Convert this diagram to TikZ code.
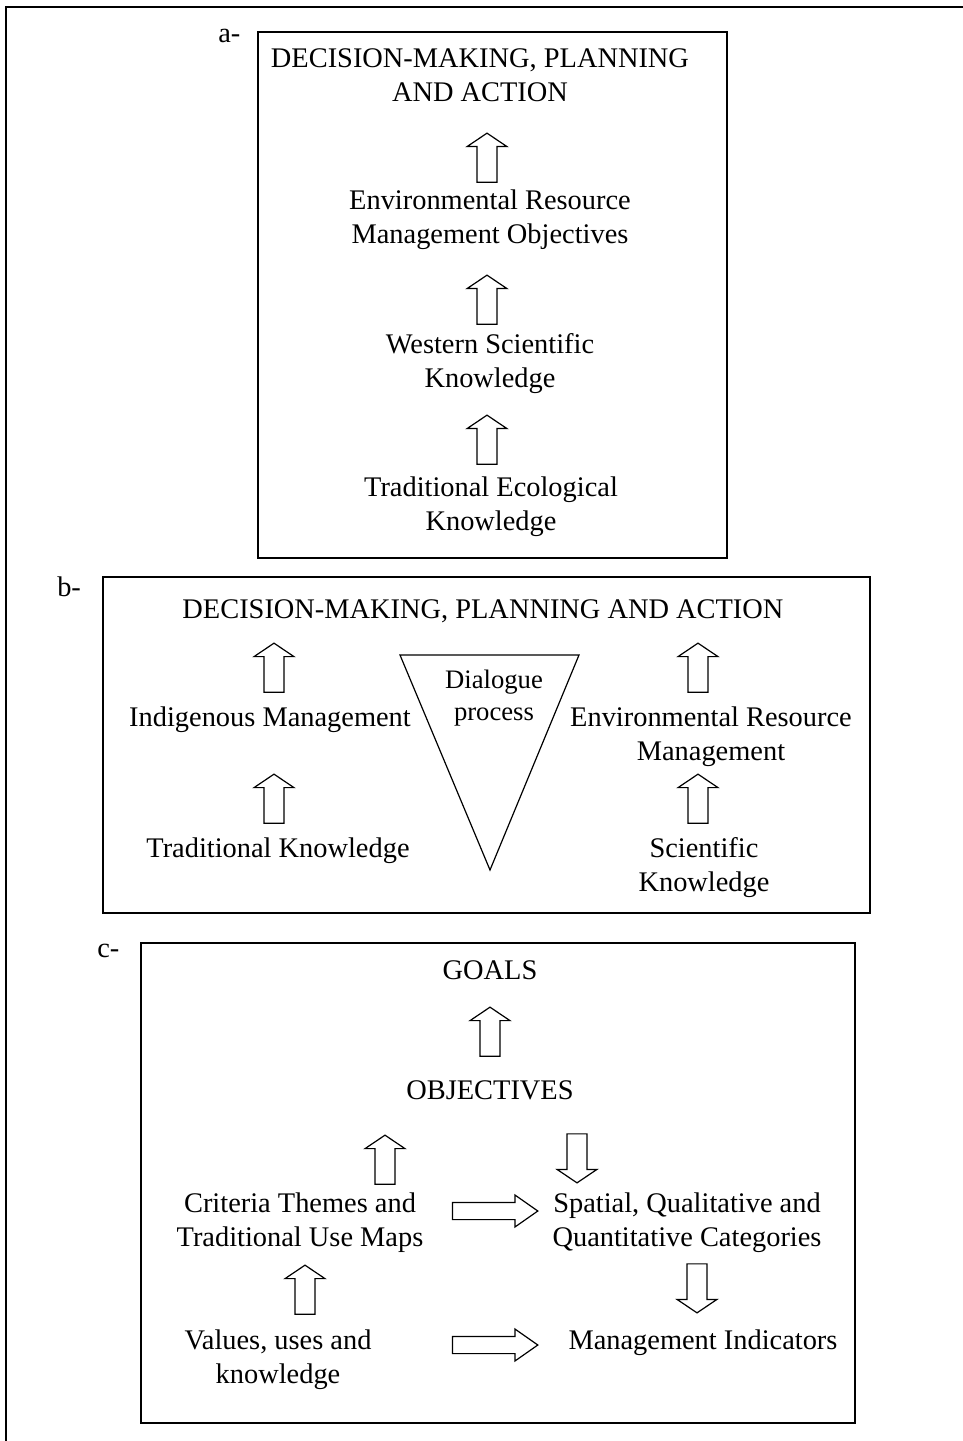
\documentclass[tikz,border=0pt]{standalone}
\usepackage{fontspec}
\setmainfont{Liberation Serif}
\usetikzlibrary{shapes.arrows}

\tikzset{
  txt/.style={align=center, inner sep=0pt, font=\fontsize{21.3}{25.5}\selectfont},
  small/.style={align=center, inner sep=0pt, font=\fontsize{20}{23.5}\selectfont},
  frame/.style={line width=1.5pt},
  blockarrow/.style={single arrow, draw, line width=0.9pt, inner xsep=0pt},
  uparrow/.style={blockarrow, rotate=90, inner ysep=7pt, minimum height=36.75pt,
    minimum width=29pt, single arrow head extend=7.5pt, single arrow tip angle=112},
  downarrow/.style={blockarrow, rotate=-90, inner ysep=7pt, minimum height=36.75pt,
    minimum width=29pt, single arrow head extend=7.5pt, single arrow tip angle=112},
  rightarrow/.style={blockarrow, inner ysep=6pt, minimum height=64pt, minimum width=23pt,
    single arrow head extend=5.5pt, single arrow tip angle=70}
}

\begin{document}
\begin{tikzpicture}[x=0.75pt, y=-0.75pt]
  \useasboundingbox (0,0) rectangle (963,1441);
  % Outer frame
  \draw[frame] (963,7) -- (6,7) -- (6,1441);

  % a- : linear model
  \draw[frame] (258,32) rectangle (727,558);
  \node[txt, anchor=base west] (lbla) at (218,43) {a-};
  \node[txt] (decA) at (480,75) {DECISION-MAKING, PLANNING\\AND ACTION};
  \node[uparrow] (upA1) at (487,161) {};
  \node[txt] (ermo) at (490,220) {Environmental Resource\\Management Objectives};
  \node[uparrow] (upA2) at (487,303) {};
  \node[txt] (wsk) at (490,364) {Western Scientific\\Knowledge};
  \node[uparrow] (upA3) at (487,443) {};
  \node[txt] (tek) at (491,507) {Traditional Ecological\\Knowledge};

  % b- : parallel model
  \draw[frame] (103,577) rectangle (870,913);
  \node[txt, anchor=base west] (lblb) at (57,596) {b-};
  \node[txt] (decB) at (483,611) {DECISION-MAKING, PLANNING AND ACTION};
  \node[uparrow] (upB1) at (274,671) {};
  \node[txt] (indig) at (270,720) {Indigenous Management};
  \node[uparrow] (upB2) at (274,802) {};
  \node[txt] (trad) at (278,851) {Traditional Knowledge};
  \node[uparrow] (upB3) at (698,671) {};
  \node[txt] (erm) at (711,737) {Environmental Resource\\Management};
  \node[uparrow] (upB4) at (698,802) {};
  \node[txt] (sci) at (704,868) {Scientific\\Knowledge};
  % Dialogue triangle
  \draw[line width=0.9pt] (400,655) -- (579,655) -- (490,870) -- cycle;
  \node[small] (dial) at (494,698) {Dialogue\\process};

  % c- : indicators
  \draw[frame] (141,943) rectangle (855,1423);
  \node[txt, anchor=base west] (lblc) at (97,957) {c-};
  \node[txt] (goals) at (490,970) {GOALS};
  \node[uparrow] (upC1) at (490,1035) {};
  \node[txt] (obj) at (490,1090) {OBJECTIVES};
  \node[uparrow] (upC2) at (385,1163) {};
  \node[downarrow] (dnC1) at (577,1155) {};
  \node[txt] (crit) at (300,1223) {Criteria Themes and\\Traditional Use Maps};
  \node[rightarrow] (rtC1) at (489,1211) {};
  \node[txt] (spat) at (687,1223) {Spatial, Qualitative and\\Quantitative Categories};
  \node[uparrow] (upC3) at (305,1293) {};
  \node[downarrow] (dnC2) at (697,1285) {};
  \node[txt] (vals) at (278,1360) {Values, uses and\\knowledge};
  \node[rightarrow] (rtC2) at (489,1345) {};
  \node[txt] (mind) at (703,1343) {Management Indicators};
\end{tikzpicture}
\end{document}
